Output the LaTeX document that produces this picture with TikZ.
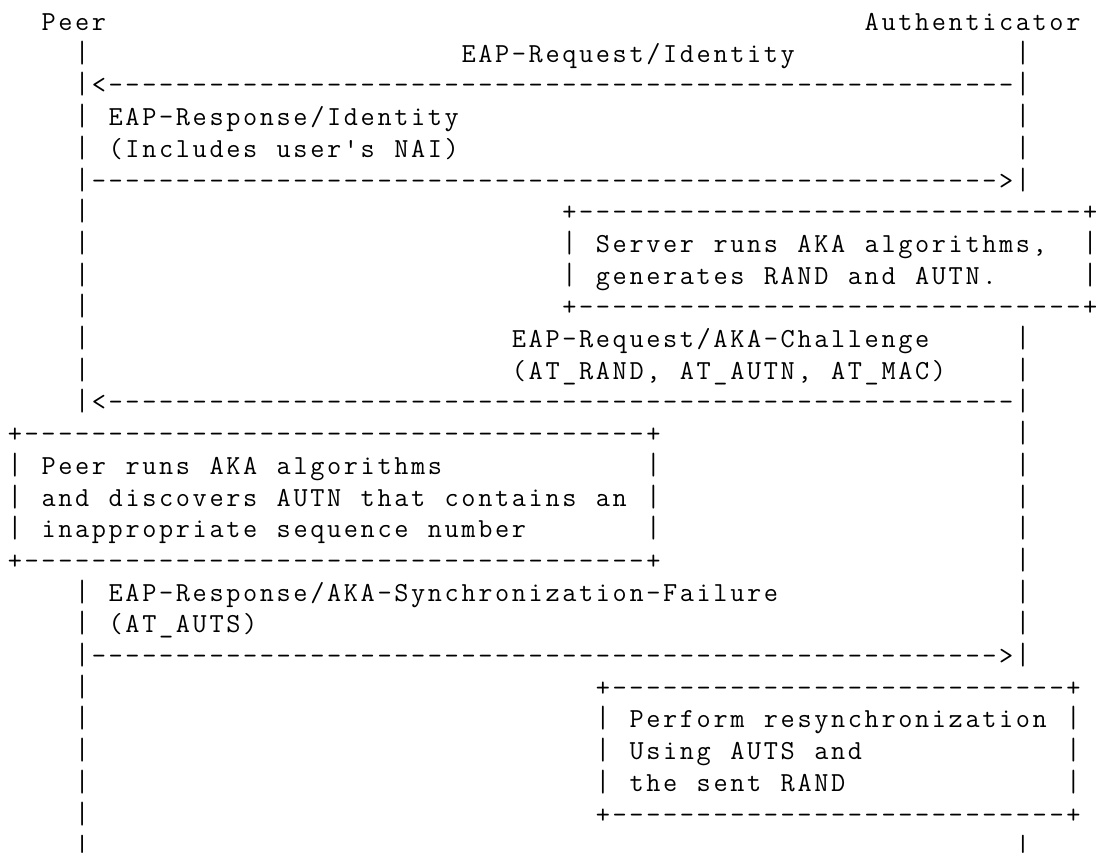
\documentclass[tikz,border=0pt]{standalone}
\usepackage{graphicx}
\newlength\chw
\setlength\chw{16.8pt}
\ExplSyntaxOn
\NewDocumentCommand\asc{m}{\str_map_inline:nn{#1}{
  \str_if_eq:nnTF{##1}{|}
    {\makebox[\chw][c]{\scalebox{1}[1.12]{|}}}
    {\makebox[\chw][c]{##1}}}}
\NewDocumentCommand\dashrun{m}{\prg_replicate:nn{#1}{\makebox[\chw][c]{-}}}
\ExplSyntaxOff
\tikzset{txt/.style={anchor=base west, inner sep=0pt, outer sep=0pt,
  font=\ttfamily\fontsize{27.5}{31.7}\selectfont}}
\newcommand\tx[4]{\node[txt] (#1) at ({6.6pt+#2*16.8pt},{-30.5pt-(#3-1)*31.7pt}) {\asc{#4}};}
\newcommand\dl[4]{\node[txt] (#1) at ({6.6pt+#2*16.8pt},{-30.5pt-(#3-1)*31.7pt}) {\dashrun{#4}};}
\newcommand\lastbar{\makebox[\chw][c]{\scalebox{1}[0.85]{|}}}
\begin{document}
\begin{tikzpicture}
\useasboundingbox (0,0) rectangle (1096pt,-857pt);
\fill[white] (0,0) rectangle (1096pt,-857pt);
% headers
\tx{peer}{2}{1}{Peer}
\tx{auth}{51}{1}{Authenticator}
% lifelines
\foreach \r in {2,...,13} {\tx{pb\r}{4}{\r}{|}}
\foreach \r in {19,...,26} {\tx{pb\r}{4}{\r}{|}}
\foreach \r in {2,...,6} {\tx{ab\r}{60}{\r}{|}}
\foreach \r in {11,...,21} {\tx{ab\r}{60}{\r}{|}}
\node[txt, yshift=3.5pt] (pb27) at ({6.6pt+4*16.8pt},{-30.5pt-26*31.7pt}) {\lastbar};
\node[txt, yshift=3.5pt] (ab27) at ({6.6pt+60*16.8pt},{-30.5pt-26*31.7pt}) {\lastbar};
% EAP-Request/Identity
\tx{m1}{27}{2}{EAP-Request/Identity}
\tx{a1tip}{5}{3}{<}
\dl{a1}{6}{3}{54}
% EAP-Response/Identity
\tx{m2a}{6}{4}{EAP-Response/Identity}
\tx{m2b}{6}{5}{(Includes user's NAI)}
\dl{a2}{5}{6}{54}
\tx{a2tip}{59}{6}{>}
% server box
\tx{s1l}{33}{7}{+}
\dl{s1}{34}{7}{30}
\tx{s1r}{64}{7}{+}
\tx{s2l}{33}{8}{|}
\tx{s2}{35}{8}{Server runs AKA algorithms,}
\tx{s2r}{64}{8}{|}
\tx{s3l}{33}{9}{|}
\tx{s3}{35}{9}{generates RAND and AUTN.}
\tx{s3r}{64}{9}{|}
\tx{s4l}{33}{10}{+}
\dl{s4}{34}{10}{30}
\tx{s4r}{64}{10}{+}
% EAP-Request/AKA-Challenge
\tx{m3a}{30}{11}{EAP-Request/AKA-Challenge}
\tx{m3b}{30}{12}{(AT_RAND, AT_AUTN, AT_MAC)}
\tx{a3tip}{5}{13}{<}
\dl{a3}{6}{13}{54}
% peer box
\tx{p1l}{0}{14}{+}
\dl{p1}{1}{14}{37}
\tx{p1r}{38}{14}{+}
\tx{p2l}{0}{15}{|}
\tx{p2}{2}{15}{Peer runs AKA algorithms}
\tx{p2r}{38}{15}{|}
\tx{p3l}{0}{16}{|}
\tx{p3}{2}{16}{and discovers AUTN that contains an}
\tx{p3r}{38}{16}{|}
\tx{p4l}{0}{17}{|}
\tx{p4}{2}{17}{inappropriate sequence number}
\tx{p4r}{38}{17}{|}
\tx{p5l}{0}{18}{+}
\dl{p5}{1}{18}{37}
\tx{p5r}{38}{18}{+}
% EAP-Response/AKA-Synchronization-Failure
\tx{m4a}{6}{19}{EAP-Response/AKA-Synchronization-Failure}
\tx{m4b}{6}{20}{(AT_AUTS)}
\dl{a4}{5}{21}{54}
\tx{a4tip}{59}{21}{>}
% resync box
\tx{r1l}{35}{22}{+}
\dl{r1}{36}{22}{27}
\tx{r1r}{63}{22}{+}
\tx{r2l}{35}{23}{|}
\tx{r2}{37}{23}{Perform resynchronization}
\tx{r2r}{63}{23}{|}
\tx{r3l}{35}{24}{|}
\tx{r3}{37}{24}{Using AUTS and}
\tx{r3r}{63}{24}{|}
\tx{r4l}{35}{25}{|}
\tx{r4}{37}{25}{the sent RAND}
\tx{r4r}{63}{25}{|}
\tx{r5l}{35}{26}{+}
\dl{r5}{36}{26}{27}
\tx{r5r}{63}{26}{+}
\end{tikzpicture}
\end{document}
